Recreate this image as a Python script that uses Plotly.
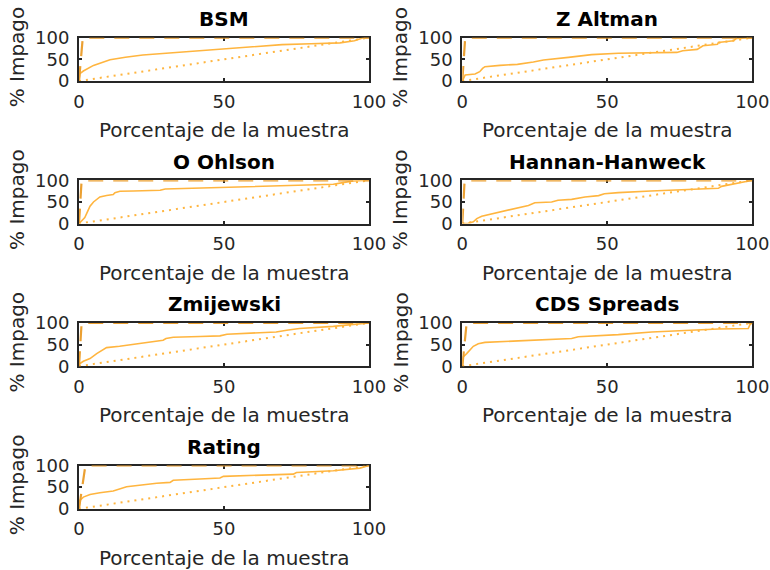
import plotly.graph_objects as go

# Curvas CAP (porcentaje de la muestra vs. porcentaje de impagos capturados)
titles = ["BSM", "Z Altman", "O Ohlson", "Hannan-Hanweck", "Zmijewski", "CDS Spreads", "Rating"]

bsm_x = [0, 0.3, 1.5, 5, 10.7, 16, 22, 28, 34, 40, 50, 60, 70, 80, 90, 95, 98, 100]
bsm_y = [0, 17, 23, 36, 49, 55, 60, 63, 66, 69, 75, 79, 84, 86, 88, 93, 100, 100]

altman_x = [0, 0.5, 1, 4.4, 6, 7, 7.8, 13, 19, 24.5, 28, 36.6, 44.6, 53.8, 65, 74, 76, 81, 83, 88, 88.3, 93.5, 94.6, 100]
altman_y = [0, 8, 14, 16, 21.5, 29, 33, 36, 38.5, 44, 48.5, 54.6, 61, 64, 65, 66, 70, 73, 81.5, 84.6, 89, 93, 98.5, 100]

ohlson_x = [0, 1, 2, 2.9, 3.8, 5, 6.1, 7.2, 9.5, 11.8, 12.4, 14.1, 18.7, 28, 29.7, 41.7, 53, 64.7, 76, 87.7, 91, 94.6, 100]
ohlson_y = [0, 7.7, 14, 27, 40, 50, 55, 61.5, 65, 67, 71.5, 74.6, 75.4, 77, 80, 82.3, 84.6, 87, 89, 90.8, 94.6, 98.5, 100]

hannan_x = [0, 2, 3.8, 5, 6.7, 10, 12.4, 15.9, 19.3, 22.8, 25, 30.8, 33, 37.7, 42.3, 47, 49, 53.8, 65, 76.8, 88.3, 89.4, 94, 100]
hannan_y = [0, 0.5, 4, 11.5, 17, 22, 27, 31, 37, 42, 48, 50, 54, 56, 61.5, 64.6, 69, 71.5, 75.4, 78.5, 81.5, 86, 92, 100]

zmij_x = [0, 0.3, 1.5, 3.8, 6.1, 8.4, 9.5, 14, 18.7, 23.3, 29, 30, 32.5, 41.7, 48.6, 51, 59, 68, 71.6, 76, 87.7, 93.4, 100]
zmij_y = [0, 6, 11.5, 17.7, 29, 39, 43, 46, 50, 54.6, 60, 64, 67, 68.5, 70, 73.8, 76, 79, 83, 87, 92, 96, 100]

cds_x = [0, 0.3, 1.5, 2.6, 3.8, 5.5, 7.8, 19.3, 30.8, 37.7, 40, 53.8, 65.3, 76.8, 88.3, 98.6, 99.2, 100]
cds_y = [0, 21.5, 29, 37, 46, 52, 55, 58.5, 61.5, 64, 68, 73, 79, 83, 86, 87, 96, 100]

rating_x = [0, 0.3, 1.5, 3.8, 7.2, 11.8, 16.4, 21, 26.8, 31.4, 32.5, 41.7, 48.6, 49.8, 62.4, 73.9, 75, 87.7, 96.9, 100]
rating_y = [0, 19.5, 27, 33, 37, 41, 51, 55, 59, 61, 66, 68.8, 71, 75, 78, 80, 84, 88, 94, 100]

# Tasa de impago de cada muestra (modelo perfecto)
default_rate = [1.3, 1.0, 0.9, 0.8, 0.9, 1.5, 2.2]

curves_x = [bsm_x, altman_x, ohlson_x, hannan_x, zmij_x, cds_x, rating_x]
curves_y = [bsm_y, altman_y, ohlson_y, hannan_y, zmij_y, cds_y, rating_y]

tick_vals = [0, 50, 100]
tick_text = ["0", "50", "100"]

W, H = 770, 570
AX_COLOR = "#262626"
CAP_COLOR = "#FFB53F"
PERFECT_COLOR = "#EBA032"
FONT = "DejaVu Sans"

col_left = [79.0, 462.3]
col_width = 290.0
row_top = [37.7, 180.3, 322.9, 465.5]
row_height = 43.3

fig = go.Figure()
annotations = []

for i, name in enumerate(titles):
    r, c = divmod(i, 2)
    idx = "" if i == 0 else str(i + 1)
    x0 = col_left[c]
    x1 = x0 + col_width
    yt = row_top[r]
    yb = yt + row_height
    xdom = [x0 / W, x1 / W]
    ydom = [1 - yb / H, 1 - yt / H]
    xa, ya = "x" + idx, "y" + idx

    # Modelo aleatorio (diagonal)
    fig.add_trace(go.Scatter(
        x=[0, 100], y=[0, 100], mode="lines", xaxis=xa, yaxis=ya,
        line=dict(color=CAP_COLOR, width=2, dash="2px,5px"),
        showlegend=False, hoverinfo="skip"))
    # Curva del modelo
    fig.add_trace(go.Scatter(
        x=curves_x[i], y=curves_y[i], mode="lines", xaxis=xa, yaxis=ya,
        line=dict(color=CAP_COLOR, width=1.6),
        showlegend=False))
    # Modelo perfecto
    fig.add_trace(go.Scatter(
        x=[0, default_rate[i], 100], y=[0, 100, 100], mode="lines",
        xaxis=xa, yaxis=ya, cliponaxis=False,
        line=dict(color=PERFECT_COLOR, width=2.2, dash="15px,10px"),
        showlegend=False, hoverinfo="skip"))

    common = dict(
        range=[0, 100], showgrid=False, zeroline=False, showline=True,
        linecolor=AX_COLOR, linewidth=2, mirror="ticks", ticks="inside",
        ticklen=3, tickwidth=2, tickcolor=AX_COLOR, automargin=False,
        tickvals=tick_vals, ticktext=tick_text, layer="below traces",
        tickfont=dict(family=FONT, size=18, color=AX_COLOR), fixedrange=True,
    )
    fig.update_layout({
        ("xaxis" + idx): dict(domain=xdom, anchor=ya, ticklabelstandoff=3, **common),
        ("yaxis" + idx): dict(domain=ydom, anchor=xa, ticklabelstandoff=4, **common),
    })

    xc = (x0 + x1) / 2
    annotations.append(dict(
        text="<b>" + name + "</b>", x=xc / W, y=1 - (yt - 18.7) / H,
        xref="paper", yref="paper", xanchor="center", yanchor="middle",
        showarrow=False, font=dict(family=FONT, size=20, color="#000000")))
    annotations.append(dict(
        text="Porcentaje de la muestra", x=xc / W, y=1 - (yb + 49) / H,
        xref="paper", yref="paper", xanchor="center", yanchor="middle",
        showarrow=False, font=dict(family=FONT, size=20, color=AX_COLOR)))
    annotations.append(dict(
        text="% Impago", x=(x0 - 62) / W, y=1 - (yt + row_height / 2 - 2) / H,
        xref="paper", yref="paper", xanchor="center", yanchor="middle",
        textangle=-90, showarrow=False,
        font=dict(family=FONT, size=20, color=AX_COLOR)))

fig.update_layout(
    width=W, height=H, margin=dict(l=0, r=0, t=0, b=0),
    paper_bgcolor="white", plot_bgcolor="white",
    annotations=annotations, showlegend=False,
)

fig.write_html("out.html")
